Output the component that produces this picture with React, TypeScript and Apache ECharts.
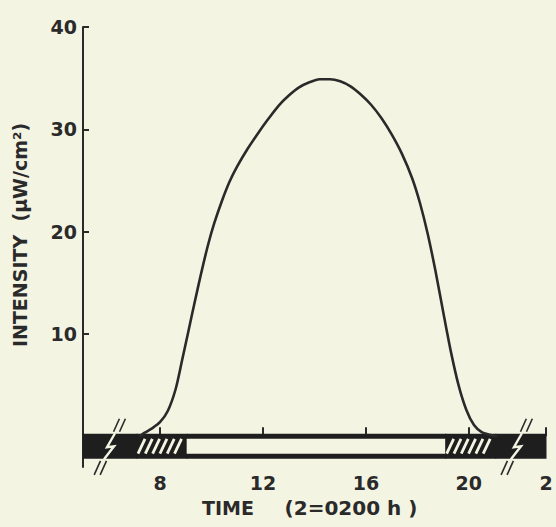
import React, { useEffect, useRef } from "react";
import * as echarts from "echarts";

// ---- data ----
const HOURS = [7.2, 7.4, 7.7, 8.0, 8.3, 8.6, 8.85, 9.1, 9.35, 9.6, 9.85, 10.1, 10.4, 10.7, 11.0, 11.4, 11.8, 12.2, 12.6, 13.0, 13.4, 13.8, 14.2, 14.6, 15.0, 15.4, 15.8, 16.2, 16.6, 17.0, 17.4, 17.8, 18.1, 18.4, 18.7, 19.0, 19.3, 19.6, 19.9, 20.2, 20.5, 20.8, 21.1];
const INTENSITY = [0, 0.35, 0.8, 1.4, 2.5, 4.6, 7.4, 10.3, 13.2, 16.0, 18.6, 20.8, 23.0, 24.9, 26.4, 28.1, 29.6, 31.0, 32.3, 33.3, 34.1, 34.6, 34.9, 34.9, 34.7, 34.2, 33.4, 32.4, 31.1, 29.5, 27.6, 25.2, 22.8, 19.8, 16.2, 12.2, 8.3, 5.0, 2.6, 1.1, 0.4, 0.15, 0];

// light regime bar: [start, end, kind] kind 0 = dark, 1 = twilight (hatched), 2 = light
const SEG_START = [5, 7.1, 9.05, 19.1, 21.05];
const SEG_END = [7.1, 9.05, 19.1, 21.05, 23];
const SEG_KIND = [0, 1, 2, 1, 0];

const BREAKS = [6.05, 21.87];

const X_TICKS = [5, 8, 12, 16, 20, 23];
const X_LABELS = [8, 12, 16, 20, 23];
const X_LABEL_TEXT: Record<number, string> = { 8: "8", 12: "12", 16: "16", 20: "20", 23: "2" };
const Y_TICKS = [10, 20, 30, 40];

const BAND_TOP = 0.25;
const BAND_BOTTOM = -2.2;
const INNER_TOP = -0.25;
const INNER_BOTTOM = -1.7;

const BG = "#f4f4e3";
const INK = "#2a2a2a";
const FONT = "'DejaVu Sans', sans-serif";

export default function App() {
  const ref = useRef<HTMLDivElement>(null);
  useEffect(() => {
    if (!ref.current) return;
    const chart = echarts.init(ref.current, undefined, { renderer: "svg" });

    const bandData = SEG_START.map((s, i) => [s, SEG_END[i], SEG_KIND[i]]);
    const lineData = HOURS.map((h, i) => [h, INTENSITY[i]]);

    chart.setOption({
      animation: false,
      backgroundColor: BG,
      grid: { left: 83, right: 10, top: 27, bottom: 60 },
      xAxis: {
        type: "value",
        min: 5,
        max: 23,
        axisLine: { show: false },
        splitLine: { show: false },
        axisTick: {
          show: true,
          inside: true,
          length: 9,
          customValues: X_TICKS,
          lineStyle: { color: INK, width: 2 },
        },
        axisLabel: {
          customValues: X_LABELS,
          formatter: (v: number) => X_LABEL_TEXT[v] ?? "",
          color: INK,
          fontSize: 19,
          fontWeight: "bold",
          fontFamily: FONT,
          margin: 6,
        },
      },
      yAxis: {
        type: "value",
        min: -3,
        max: 40,
        splitLine: { show: false },
        axisLine: { show: true, lineStyle: { color: INK, width: 2 } },
        axisTick: {
          show: true,
          inside: true,
          length: 6,
          customValues: Y_TICKS,
          lineStyle: { color: INK, width: 2 },
        },
        axisLabel: {
          customValues: Y_TICKS,
          color: INK,
          fontSize: 19,
          fontWeight: "bold",
          fontFamily: FONT,
          margin: 6,
        },
      },
      series: [
        {
          type: "custom",
          z: 2,
          data: bandData,
          renderItem: (params: any, api: any) => {
            const x0 = api.value(0);
            const x1 = api.value(1);
            const kind = api.value(2);
            const a = api.coord([x0, BAND_TOP]);
            const b = api.coord([x1, BAND_BOTTOM]);
            const ia = api.coord([x0, INNER_TOP]);
            const ib = api.coord([x1, INNER_BOTTOM]);
            const children: any[] = [
              {
                type: "rect",
                shape: { x: a[0] - 0.5, y: a[1], width: b[0] - a[0] + 1, height: b[1] - a[1] },
                style: { fill: "#1e1e1e" },
              },
            ];
            if (kind === 2) {
              children.push({
                type: "rect",
                shape: { x: ia[0] - 0.5, y: ia[1], width: ib[0] - ia[0] + 1, height: ib[1] - ia[1] },
                style: { fill: BG },
              });
            } else if (kind === 1) {
              const dx = 7;
              const step = 7.3;
              for (let sx = ia[0] + 1; sx + dx <= ib[0] + 1; sx += step) {
                children.push({
                  type: "line",
                  shape: { x1: sx, y1: ib[1], x2: sx + dx, y2: ia[1] },
                  style: { stroke: BG, lineWidth: 2.8 },
                });
              }
            }
            return { type: "group", children };
          },
        },
        {
          type: "custom",
          z: 3,
          data: BREAKS.map((b) => [b]),
          renderItem: (params: any, api: any) => {
            const bx = api.value(0);
            const top = api.coord([bx, BAND_TOP]);
            const bot = api.coord([bx, BAND_BOTTOM]);
            const cx = top[0];
            const cy = (top[1] + bot[1]) / 2;
            const k = 0.45;
            const xAt = (y: number, off: number) => cx + off - (y - cy) * k;
            const children: any[] = [
              {
                type: "polyline",
                shape: {
                  points: [
                    [cx + 5, top[1] - 0.5],
                    [cx - 3, cy + 1],
                    [cx + 4, cy],
                    [cx - 6, bot[1] + 0.5],
                  ],
                },
                style: { stroke: BG, lineWidth: 2.4, fill: "none" },
              },
            ];
            [-3, 3].forEach((off) => {
              const yA1 = top[1] - 15;
              const yA2 = top[1] - 2;
              const yB1 = bot[1] + 2;
              const yB2 = bot[1] + 16;
              children.push({
                type: "line",
                shape: { x1: xAt(yA1, off), y1: yA1, x2: xAt(yA2, off), y2: yA2 },
                style: { stroke: INK, lineWidth: 1.6 },
              });
              children.push({
                type: "line",
                shape: { x1: xAt(yB1, off), y1: yB1, x2: xAt(yB2, off), y2: yB2 },
                style: { stroke: INK, lineWidth: 1.6 },
              });
            });
            return { type: "group", children };
          },
        },
        {
          type: "line",
          z: 4,
          data: lineData,
          smooth: 0.25,
          symbol: "none",
          lineStyle: { color: INK, width: 2.6 },
        },
      ],
      graphic: [
        {
          type: "text",
          x: 20,
          y: 235,
          rotation: Math.PI / 2,
          style: {
            text: "INTENSITY  (µW/cm²)",
            fill: INK,
            font: `bold 19px ${FONT}`,
            align: "center",
            verticalAlign: "middle",
          },
        },
        {
          type: "text",
          x: 228,
          y: 508,
          style: {
            text: "TIME",
            fill: INK,
            font: `bold 19px ${FONT}`,
            align: "center",
            verticalAlign: "middle",
          },
        },
        {
          type: "text",
          x: 351,
          y: 508,
          style: {
            text: "(2=0200 h )",
            fill: INK,
            font: `bold 20px ${FONT}`,
            align: "center",
            verticalAlign: "middle",
          },
        },
      ],
    });
    return () => chart.dispose();
  }, []);

  return (
    <div
      ref={ref}
      style={{ position: "fixed", left: 0, top: 0, width: 556, height: 527, background: BG }}
    />
  );
}
